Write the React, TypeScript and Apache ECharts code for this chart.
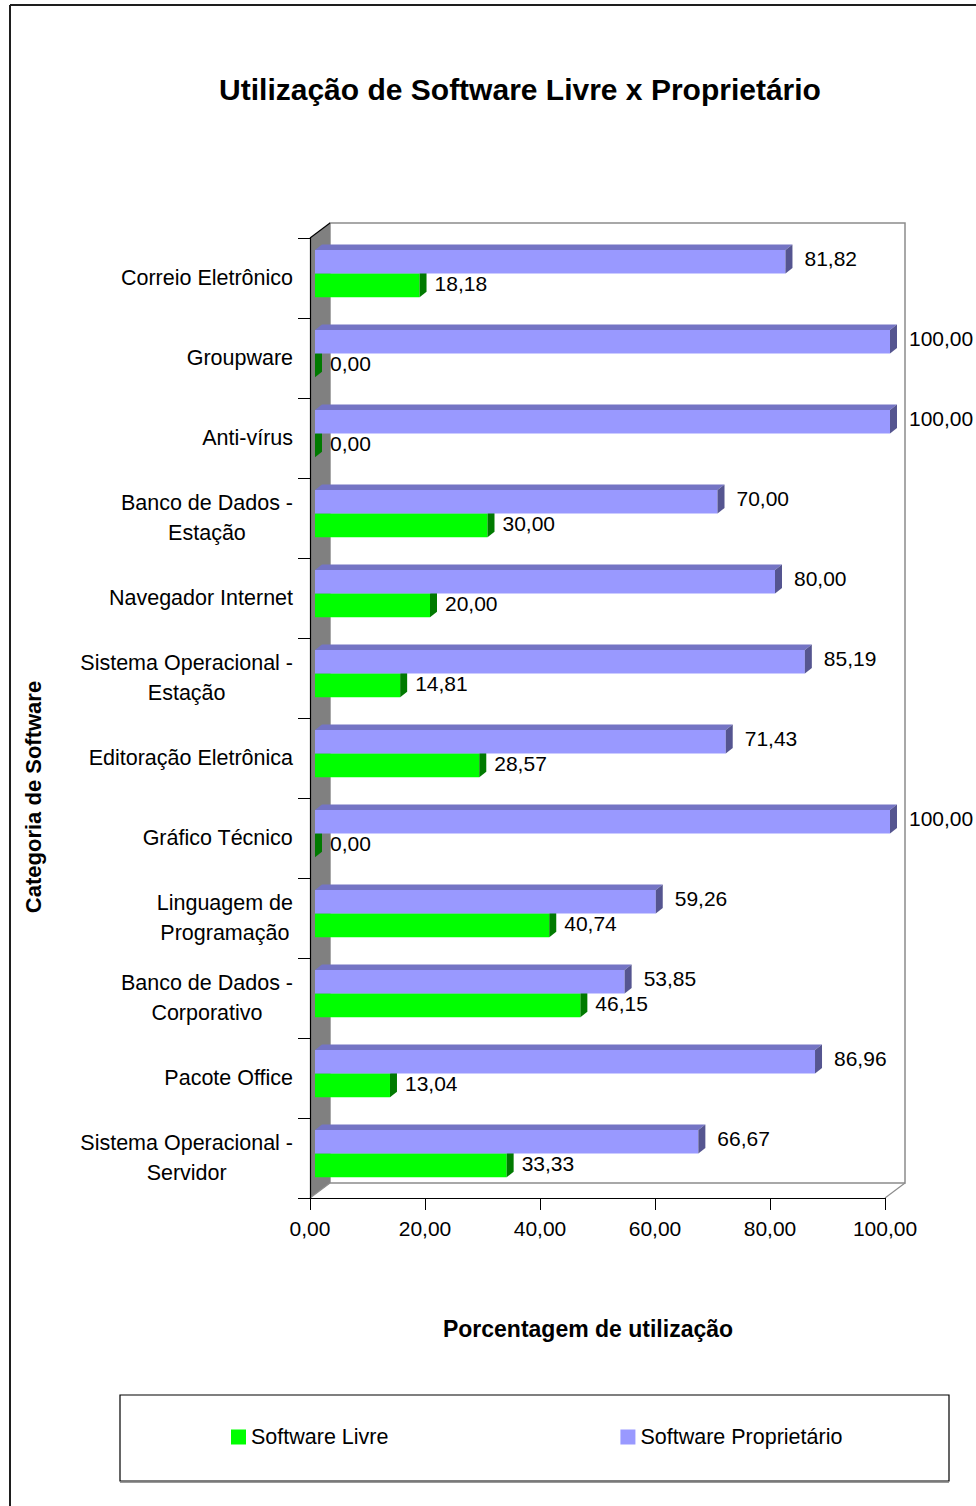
import React, { useEffect, useRef } from "react";
import * as echarts from "echarts";

// Categories top to bottom
const categories = [
  "Correio Eletrônico",
  "Groupware",
  "Anti-vírus",
  "Banco de Dados -\nEstação",
  "Navegador Internet",
  "Sistema Operacional -\nEstação",
  "Editoração Eletrônica",
  "Gráfico Técnico",
  "Linguagem de\nProgramação",
  "Banco de Dados -\nCorporativo",
  "Pacote Office",
  "Sistema Operacional -\nServidor",
];

const softwareLivre = [18.18, 0, 0, 30, 20, 14.81, 28.57, 0, 40.74, 46.15, 13.04, 33.33];
const softwareProprietario = [81.82, 100, 100, 70, 80, 85.19, 71.43, 100, 59.26, 53.85, 86.96, 66.67];

const xTicks = [0, 20, 40, 60, 80, 100];

const FONT = "'Liberation Sans', Arial, sans-serif";
const fmt = (v: number) => v.toFixed(2).replace(".", ",");

type Palette = { front: string; top: string; side: string };
const livreColors: Palette = { front: "#00ff00", top: "#00c400", side: "#007a00" };
const propColors: Palette = { front: "#9999ff", top: "#7474c4", side: "#555590" };

// 3D-looking horizontal bar: front face, top face, end face and value label
function barRenderer(upper: boolean, pal: Palette) {
  return (params: any, api: any) => {
    const v = api.value(0);
    const ci = api.value(1);
    const [xEnd0, yc] = api.coord([v, ci]);
    const [x0] = api.coord([0, ci]);
    const band = api.size([0, 1])[1];
    const bandTop = yc - band / 2;
    const h = band * 0.295;
    const yt = upper ? bandTop + band * 0.15 : bandTop + band * 0.15 + h;
    const yb = yt + h;
    const xs = x0 + 5;
    const xe = xEnd0 + 5;
    const dx = 7;
    const dy = -5.5;
    return {
      type: "group",
      children: [
        {
          type: "polygon",
          shape: { points: [[xs, yt], [xs + dx, yt + dy], [xe + dx, yt + dy], [xe, yt]] },
          style: { fill: pal.top },
        },
        {
          type: "rect",
          shape: { x: xs, y: yt, width: xe - xs, height: yb - yt },
          style: { fill: pal.front },
        },
        {
          type: "polygon",
          shape: { points: [[xe, yt], [xe + dx, yt + dy], [xe + dx, yb + dy], [xe, yb]] },
          style: { fill: pal.side },
        },
        {
          type: "text",
          style: {
            text: fmt(v),
            x: xe + dx + (upper ? 12 : 8),
            y: (yt + yb) / 2 + (upper ? -3 : -2),
            textAlign: "left",
            textVerticalAlign: "middle",
            fontSize: 21,
            fontFamily: FONT,
            fill: "#000",
          },
        },
      ],
    };
  };
}

// Side wall, back wall and floor of the 3D plot box
function wallRenderer(params: any) {
  const cs = params.coordSys;
  const L = cs.x;
  const T = cs.y;
  const R = cs.x + cs.width;
  const B = cs.y + cs.height;
  const ox = 20;
  const oy = -15;
  return {
    type: "group",
    children: [
      {
        type: "rect",
        shape: { x: L + ox, y: T + oy, width: R - L, height: B - T },
        style: { fill: "#ffffff", stroke: "#8c8c8c", lineWidth: 1.5 },
      },
      {
        type: "polygon",
        shape: { points: [[L, T], [L + ox, T + oy], [L + ox, B + oy], [L, B]] },
        style: { fill: "#808080" },
      },
      {
        type: "line",
        shape: { x1: L, y1: T, x2: L + ox, y2: T + oy },
        style: { stroke: "#000", lineWidth: 1.2 },
      },
      {
        type: "line",
        shape: { x1: L, y1: B, x2: L + ox, y2: B + oy },
        style: { stroke: "#8c8c8c", lineWidth: 1.2 },
      },
      {
        type: "line",
        shape: { x1: R, y1: B, x2: R + ox, y2: B + oy },
        style: { stroke: "#8c8c8c", lineWidth: 1.2 },
      },
    ],
  };
}

export default function App() {
  const ref = useRef<HTMLDivElement>(null);

  useEffect(() => {
    if (!ref.current) return;
    const chart = echarts.init(ref.current, null, { renderer: "svg" });

    const option: any = {
      animation: false,
      backgroundColor: "#ffffff",
      grid: { left: 310, top: 238, width: 575, height: 960, containLabel: false },
      xAxis: {
        type: "value",
        min: xTicks[0],
        max: xTicks[xTicks.length - 1],
        interval: 20,
        z: 5,
        axisLine: { show: true, lineStyle: { color: "#000", width: 1.2 } },
        axisTick: { show: true, length: 12, lineStyle: { color: "#000", width: 1 } },
        splitLine: { show: false },
        axisLabel: {
          formatter: (v: number) => fmt(v),
          fontSize: 21,
          fontFamily: FONT,
          color: "#000",
          margin: 20,
        },
      },
      yAxis: {
        type: "category",
        data: categories,
        inverse: true,
        z: 5,
        axisLine: { show: true, lineStyle: { color: "#000", width: 1.2 } },
        axisTick: { show: true, length: 12, lineStyle: { color: "#000", width: 1 } },
        axisLabel: {
          margin: 17,
          color: "#000",
          formatter: (v: string) =>
            v
              .split("\n")
              .map((s) => `{c|${s}}`)
              .join("\n"),
          rich: {
            c: { align: "center", fontSize: 21.5, lineHeight: 30, fontFamily: FONT, color: "#000" },
          },
        },
      },
      legend: {
        data: ["Software Livre", "Software Proprietário"],
        left: 231,
        top: 1426,
        padding: 0,
        itemWidth: 15,
        itemHeight: 15,
        itemGap: 232,
        icon: "rect",
        textStyle: { fontSize: 21.5, fontFamily: FONT, color: "#000" },
      },
      graphic: [
        {
          type: "line",
          z: 10,
          shape: { x1: 10, y1: 5, x2: 976, y2: 5 },
          style: { stroke: "#1e1e1e", lineWidth: 2 },
        },
        {
          type: "line",
          z: 10,
          shape: { x1: 10, y1: 5, x2: 10, y2: 1506 },
          style: { stroke: "#1e1e1e", lineWidth: 2 },
        },
        {
          type: "text",
          x: 520,
          y: 89,
          style: {
            text: "Utilização de Software Livre x Proprietário",
            textAlign: "center",
            textVerticalAlign: "middle",
            fontSize: 30,
            fontWeight: "bold",
            fontFamily: FONT,
            fill: "#000",
          },
        },
        {
          type: "text",
          x: 588,
          y: 1329,
          style: {
            text: "Porcentagem de utilização",
            textAlign: "center",
            textVerticalAlign: "middle",
            fontSize: 23,
            fontWeight: "bold",
            fontFamily: FONT,
            fill: "#000",
          },
        },
        {
          type: "text",
          x: 33,
          y: 797,
          rotation: Math.PI / 2,
          style: {
            text: "Categoria de Software",
            textAlign: "center",
            textVerticalAlign: "middle",
            fontSize: 22,
            fontWeight: "bold",
            fontFamily: FONT,
            fill: "#000",
          },
        },
        {
          type: "rect",
          shape: { x: 120, y: 1395, width: 829, height: 86 },
          style: { fill: "none", stroke: "#000", lineWidth: 1.2 },
        },
        {
          type: "line",
          shape: { x1: 120, y1: 1482, x2: 949, y2: 1482 },
          style: { stroke: "#777", lineWidth: 1.5 },
        },
      ],
      series: [
        {
          type: "custom",
          name: "walls",
          silent: true,
          z: 1,
          data: [[0, 0]],
          renderItem: (params: any) => wallRenderer(params),
        },
        {
          type: "custom",
          name: "Software Livre",
          z: 3,
          itemStyle: { color: livreColors.front },
          encode: { x: 0, y: 1 },
          data: softwareLivre.map((v, i) => [v, i]),
          renderItem: barRenderer(false, livreColors),
        },
        {
          type: "custom",
          name: "Software Proprietário",
          z: 3,
          itemStyle: { color: propColors.front },
          encode: { x: 0, y: 1 },
          data: softwareProprietario.map((v, i) => [v, i]),
          renderItem: barRenderer(true, propColors),
        },
      ],
    };

    chart.setOption(option);
    return () => chart.dispose();
  }, []);

  return (
    <div
      ref={ref}
      style={{ position: "absolute", left: 0, top: 0, width: 976, height: 1506, background: "#fff" }}
    />
  );
}
